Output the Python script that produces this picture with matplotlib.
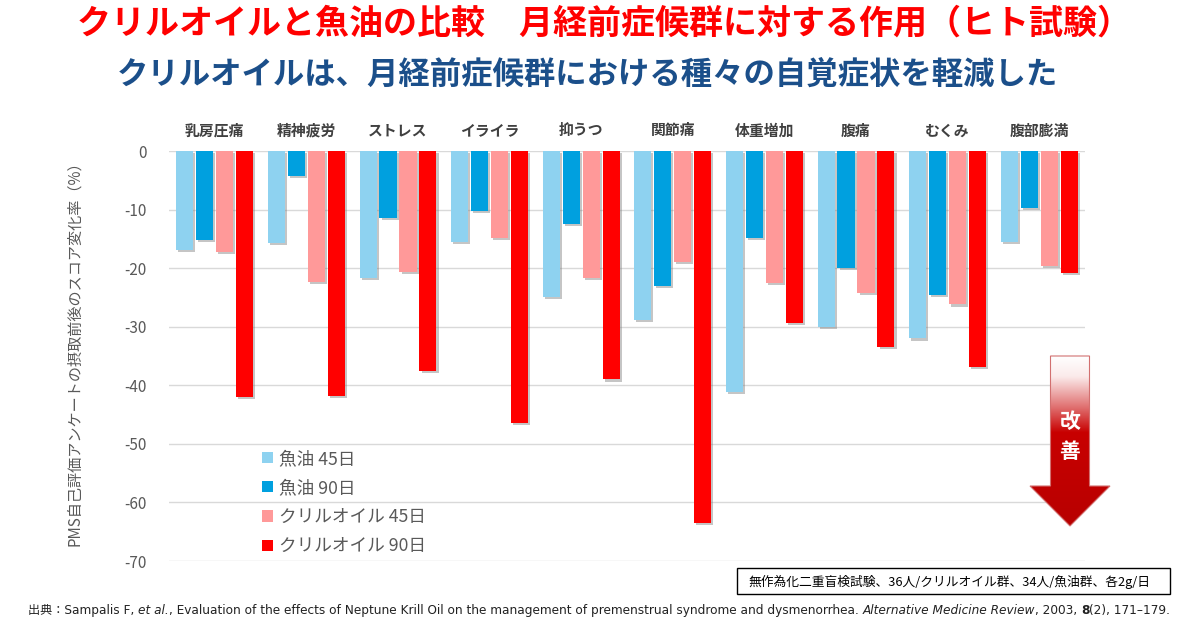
import numpy as np
import matplotlib
matplotlib.use("Agg")
import matplotlib.pyplot as plt
import matplotlib.patheffects as pe
from matplotlib.patches import Patch, Polygon, Rectangle
from matplotlib.colors import LinearSegmentedColormap

plt.rcParams['font.family'] = ['Noto Sans CJK JP', 'DejaVu Sans']
plt.rcParams['axes.unicode_minus'] = False

# ---------------- data ----------------
categories = ["乳房圧痛", "精神疲労", "ストレス", "イライラ", "抑うつ",
              "関節痛", "体重増加", "腹痛", "むくみ", "腹部膨満"]
series_names = ["魚油 45日", "魚油 90日", "クリルオイル 45日", "クリルオイル 90日"]
fish_45 = [-16.9, -15.7, -21.7, -15.5, -24.9, -28.8, -41.2, -30.0, -32.0, -15.5]
fish_90 = [-15.2, -4.2, -11.5, -10.3, -12.4, -23.0, -14.9, -20.0, -24.6, -9.8]
krill_45 = [-17.3, -22.3, -20.7, -14.9, -21.7, -19.0, -22.6, -24.3, -26.2, -19.7]
krill_90 = [-42.0, -41.8, -37.5, -46.5, -39.0, -63.5, -29.3, -33.5, -36.8, -20.9]
series_values = [fish_45, fish_90, krill_45, krill_90]
colors = ["#8ED2F0", "#00A0DF", "#FF9999", "#FF0000"]
yticks = [0, -10, -20, -30, -40, -50, -60, -70]
ytick_labels = ["0", "-10", "-20", "-30", "-40", "-50", "-60", "-70"]

title1 = "クリルオイルと魚油の比較　月経前症候群に対する作用（ヒト試験）"
title2 = "クリルオイルは、月経前症候群における種々の自覚症状を軽減した"
ylabel = "PMS自己評価アンケートの摂取前後のスコア変化率（%）"
note = "無作為化二重盲検試験、36人/クリルオイル群、34人/魚油群、各2g/日"
arrow_text = ["改", "善"]
footer_pieces = [("出典：Sampalis F, ", "normal", "normal"),
                 ("et al.", "italic", "normal"),
                 (", Evaluation of the effects of Neptune Krill Oil on the management of premenstrual syndrome and dysmenorrhea. ", "normal", "normal"),
                 ("Alternative Medicine Review", "italic", "normal"),
                 (", 2003, ", "normal", "normal"),
                 ("8", "normal", "bold"),
                 ("(2), 171–179.", "normal", "normal")]

W, H = 1189, 626
fig = plt.figure(figsize=(W / 100, H / 100), dpi=100)
fig.patch.set_facecolor("white")

ax = fig.add_axes([169 / W, 1 - 561 / H, (1085 - 169) / W, (561 - 151) / H])
x = np.arange(len(categories))
bw = 0.186
step = 0.218
shadow = [pe.SimplePatchShadow(offset=(1.5, -1.5), shadow_rgbFace="#808080", alpha=0.45), pe.Normal()]
for k, (vals, c) in enumerate(zip(series_values, colors)):
    bars = ax.bar(x + (k - 1.5) * step, vals, width=bw, color=c, zorder=3)
    for b in bars:
        b.set_path_effects(shadow)

ax.set_xlim(-0.5, len(categories) - 0.5)
ax.set_ylim(-70, 0)
ax.set_yticks(yticks)
ax.set_yticklabels(ytick_labels)
ax.yaxis.grid(True, color="#D9D9D9", lw=1.0, zorder=0)
ax.set_axisbelow(True)
for s in ax.spines.values():
    s.set_visible(False)
ax.tick_params(axis="y", length=0, pad=16, labelsize=11, labelcolor="#595959")
ax.xaxis.tick_top()
ax.set_xticks(x)
ax.set_xticklabels(categories, fontweight="bold", fontsize=10.7, color="#404040")
ax.tick_params(axis="x", length=0, pad=9)

ax.set_ylabel(ylabel, fontsize=10.9, color="#595959")
ax.yaxis.set_label_coords((83 - 169) / (1085 - 169), (561 - 350) / (561 - 151))

handles = [Patch(facecolor=c, edgecolor="none") for c in colors]
leg = ax.legend(handles, series_names, loc="upper left",
                bbox_to_anchor=(262 / W, 1 - 450 / H), bbox_transform=fig.transFigure,
                frameon=False, borderpad=0, borderaxespad=0, handlelength=0.6, handleheight=0.6,
                handletextpad=0.35, labelspacing=0.63, fontsize=12.7,
                labelcolor="#595959")

# titles
fig.text(604 / W, 1 - 23 / H, title1, ha="center", va="center", fontsize=24.5,
         fontweight="bold", color="#FF0000")
fig.text(587 / W, 1 - 75 / H, title2, ha="center", va="center", fontsize=22.6,
         fontweight="bold", color="#1B4F8A")

# overlay for decorations (pixel coordinates)
ov = fig.add_axes([0, 0, 1, 1], facecolor="none")
ov.set_xlim(0, W)
ov.set_ylim(H, 0)
ov.axis("off")

arrow_pts = [(1050.5, 356), (1089.5, 356), (1089.5, 486), (1110, 486),
             (1070, 526), (1030, 486), (1050.5, 486)]
poly = Polygon(arrow_pts, closed=True, facecolor="none", edgecolor="none")
ov.add_patch(poly)
cmap = LinearSegmentedColormap.from_list(
    "arr", [(0.0, "#FFFFFF"), (0.12, "#FBEAEA"), (0.3, "#E07070"), (0.45, "#C80000"), (1.0, "#B80000")])
grad = np.linspace(0, 1, 256).reshape(-1, 1)
im = ov.imshow(grad, cmap=cmap, extent=(1030, 1110, 526, 356), aspect="auto", zorder=5)
im.set_clip_path(poly)
edge = Polygon(arrow_pts, closed=True, facecolor="none", edgecolor="#D27070", lw=0.8, zorder=6)
ov.add_patch(edge)
ov.text(1070, 422, arrow_text[0], ha="center", va="center", color="white",
        fontsize=15, fontweight="bold", zorder=7)
ov.text(1070, 451, arrow_text[1], ha="center", va="center", color="white",
        fontsize=15, fontweight="bold", zorder=7)

# note box
ov.add_patch(Rectangle((737, 568), 433, 26, facecolor="white", edgecolor="black", lw=1.0, zorder=5))
ov.text(748, 581.5, note, ha="left", va="center", fontsize=9.2, color="black", zorder=6)

# footer (chained pieces)
fs = 8.7
fam = ["DejaVu Sans", "Noto Sans CJK JP"]
prev = ov.annotate(footer_pieces[0][0], xy=(28, 617), xycoords="data", ha="left", va="bottom",
                   fontsize=fs, family=fam, color="#222222")
for txt, style, weight in footer_pieces[1:]:
    prev = ov.annotate(txt, xy=(1, 0), xycoords=prev, ha="left", va="bottom",
                       fontsize=fs, family=fam, style=style, fontweight=weight, color="#222222")

fig.savefig("out.png", dpi=100, facecolor="white")
